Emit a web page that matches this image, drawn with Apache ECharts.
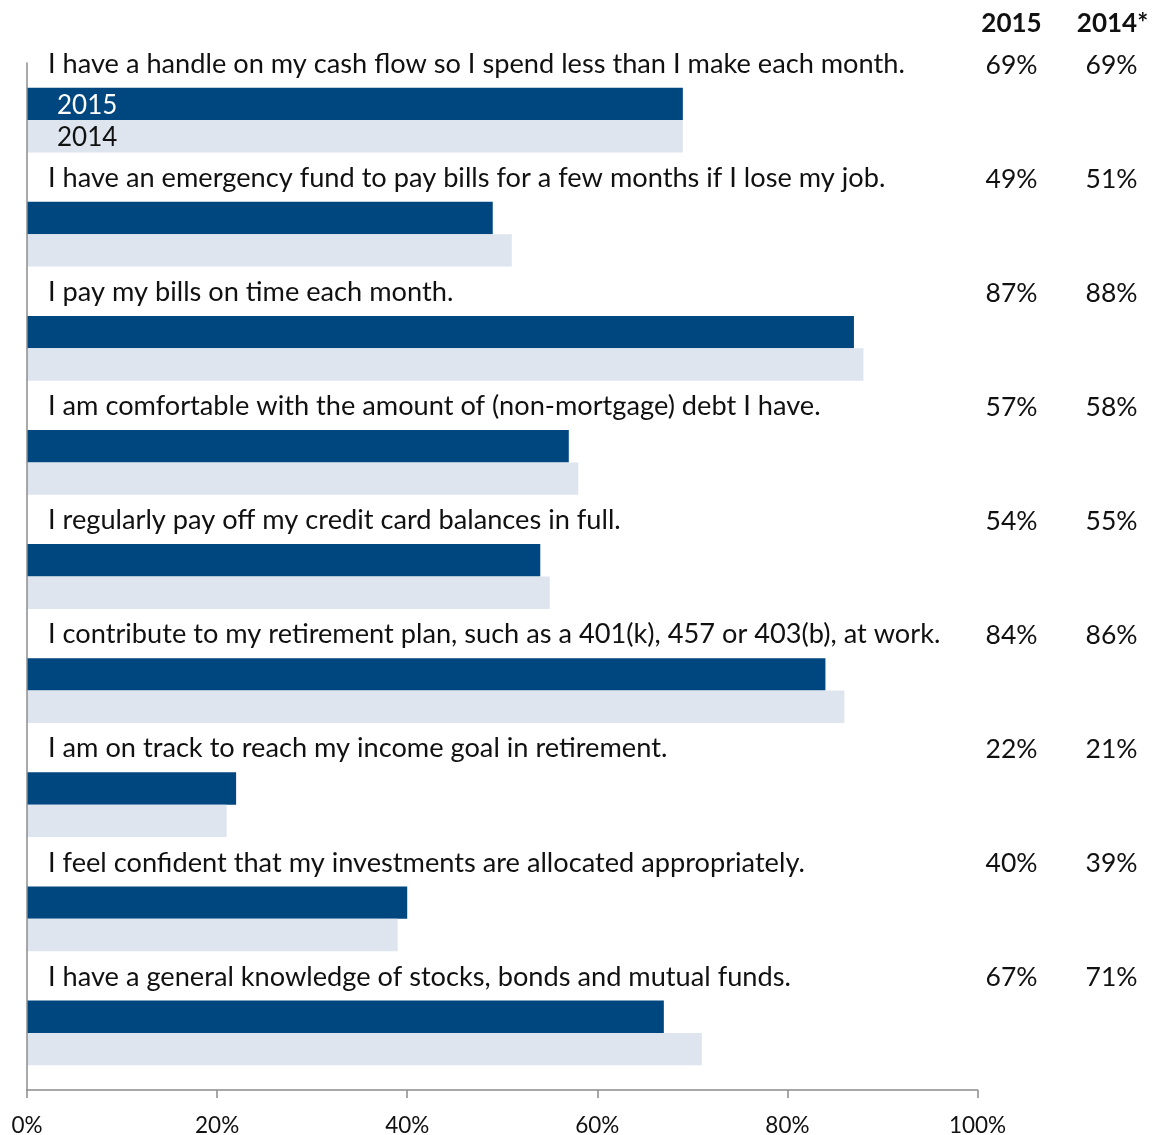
<!DOCTYPE html>
<html>
<head>
<meta charset="utf-8">
<style>
  html, body { margin: 0; padding: 0; background: #ffffff; }
  #chart { width: 1153px; height: 1135px; }
</style>
<script src="https://cdn.jsdelivr.net/npm/echarts@6/dist/echarts.min.js"></script>
</head>
<body>
<div id="chart"></div>
<script>
// Survey statements (top to bottom)
const statements = [
  'I have a handle on my cash flow so I spend less than I make each month.',
  'I have an emergency fund to pay bills for a few months if I lose my job.',
  'I pay my bills on time each month.',
  'I am comfortable with the amount of (non-mortgage) debt I have.',
  'I regularly pay off my credit card balances in full.',
  'I contribute to my retirement plan, such as a 401(k), 457 or 403(b), at work.',
  'I am on track to reach my income goal in retirement.',
  'I feel confident that my investments are allocated appropriately.',
  'I have a general knowledge of stocks, bonds and mutual funds.'
];
// Share of respondents agreeing, in percent
const values2015 = [69, 49, 87, 57, 54, 84, 22, 40, 67];
const values2014 = [69, 51, 88, 58, 55, 86, 21, 39, 71];
const seriesNames = ['2015', '2014'];
const columnHeaders = ['2015', '2014*'];
const xTicks = [0, 20, 40, 60, 80, 100];

const FONT = 'Lato';
const DARK = '#00467F';
const LIGHT = '#DEE5EF';
const TEXT = '#111111';
const AXIS = '#8c8c8c';
const LABEL_SIZE = 27.2;
const BAR_W = 32.4;

const chart = echarts.init(document.getElementById('chart'), null, { renderer: 'canvas' });

// Only the first group carries the in-bar year labels
function firstOnly(values) {
  return values.map((v, i) => i === 0 ? { value: v, label: { show: true } } : v);
}

const option = {
  animation: false,
  backgroundColor: '#ffffff',
  textStyle: { fontFamily: FONT },
  title: {
    left: 956,
    top: 6,
    text: `{h|${columnHeaders[0]}}{h|${columnHeaders[1]}}`,
    textStyle: {
      rich: {
        h: { width: 101, align: 'center', fontFamily: FONT, fontWeight: 'bold', fontSize: 26, color: TEXT }
      }
    }
  },
  grid: {
    left: 27, right: 175.5, top: 63, bottom: 45,
    containLabel: false,
    outerBoundsMode: 'none'
  },
  xAxis: {
    type: 'value',
    min: xTicks[0],
    max: xTicks[xTicks.length - 1],
    interval: 20,
    axisLine: { show: true, lineStyle: { color: AXIS, width: 1.5 } },
    axisTick: { show: true, length: 8, lineStyle: { color: AXIS, width: 1.5 } },
    splitLine: { show: false },
    axisLabel: { formatter: '{value}%', fontSize: 22.5, color: TEXT, margin: 24.5, fontFamily: FONT }
  },
  yAxis: [
    {
      type: 'category',
      inverse: true,
      z: 5,
      data: statements,
      axisLine: { show: true, lineStyle: { color: AXIS, width: 1.5 } },
      axisTick: { show: false },
      axisLabel: {
        inside: true,
        margin: 21,
        align: 'left',
        verticalAlign: 'middle',
        padding: [0, 0, 112, 0],
        formatter: (val) => `{t|${val}}`,
        rich: {
          t: { fontSize: LABEL_SIZE, color: TEXT, fontFamily: FONT }
        }
      }
    },
    {
      type: 'category',
      inverse: true,
      position: 'right',
      data: statements,
      axisLine: { show: false },
      axisTick: { show: false },
      axisLabel: {
        margin: -16,
        align: 'left',
        verticalAlign: 'middle',
        padding: [0, 0, 110, 0],
        formatter: (val, idx) => `{v|${values2015[idx]}%}{v|${values2014[idx]}%}`,
        rich: {
          v: { width: 100, align: 'center', fontSize: 26.5, color: TEXT, fontFamily: FONT }
        }
      }
    }
  ],
  series: [
    {
      name: seriesNames[0],
      type: 'bar',
      data: firstOnly(values2015),
      barGap: '0%',
      barWidth: BAR_W,
      itemStyle: { color: DARK },
      label: {
        show: false,
        position: 'insideLeft',
        distance: 30,
        offset: [0, 1.5],
        formatter: '{a}',
        color: '#ffffff',
        fontSize: 26,
        fontFamily: FONT
      }
    },
    {
      name: seriesNames[1],
      type: 'bar',
      data: firstOnly(values2014),
      barGap: '0%',
      barWidth: BAR_W,
      itemStyle: { color: LIGHT },
      label: {
        show: false,
        position: 'insideLeft',
        distance: 30,
        offset: [0, 1],
        formatter: '{a}',
        color: TEXT,
        fontSize: 26,
        fontFamily: FONT
      }
    }
  ]
};

chart.setOption(option);
</script>
</body>
</html>
